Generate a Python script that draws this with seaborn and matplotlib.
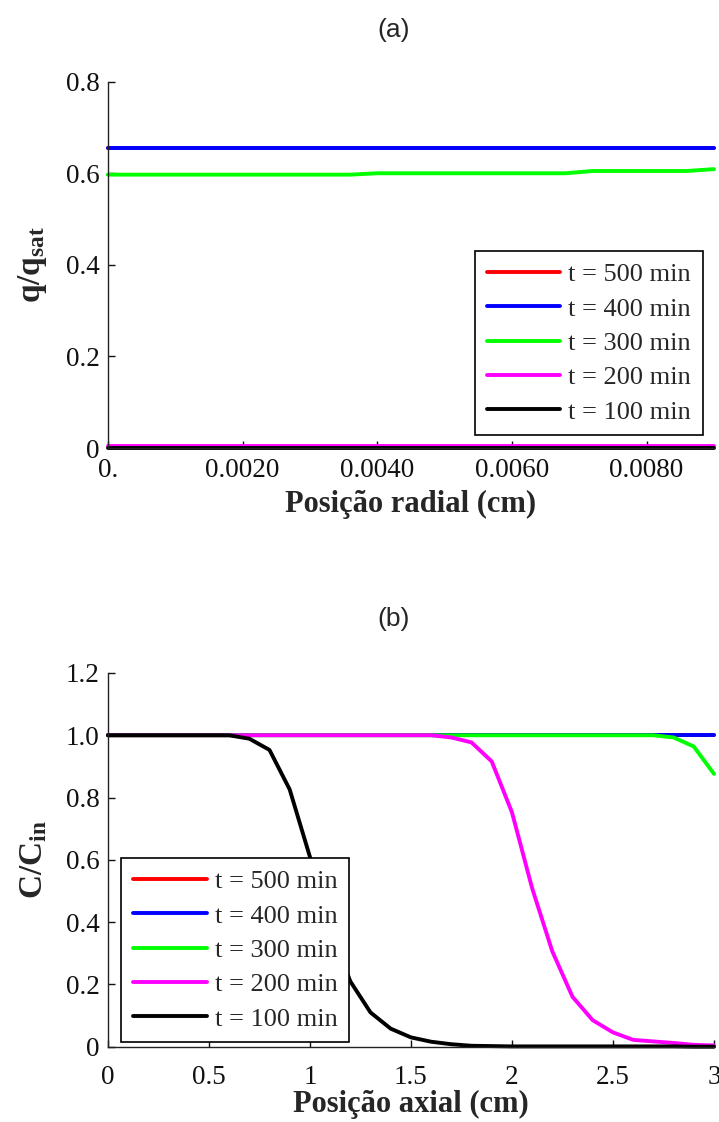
import matplotlib
matplotlib.use('Agg')
import matplotlib.pyplot as plt
import pandas as pd
import seaborn as sns

# ---------------- data ----------------
series = ['t = 500 min', 't = 400 min', 't = 300 min', 't = 200 min', 't = 100 min']
colors = ['#ff0000', '#0000ff', '#00ff00', '#ff00ff', '#000000']

# (a) radial profiles q/qsat
r_500 = [0.0, 0.009]
q_500 = [0.655, 0.655]
r_400 = [0.0, 0.009]
q_400 = [0.655, 0.655]
r_300 = [0.0, 0.0036, 0.0040, 0.0068, 0.0072, 0.0086, 0.0090]
q_300 = [0.597, 0.597, 0.600, 0.600, 0.605, 0.605, 0.609]
r_200 = [0.0, 0.009]
q_200 = [0.005, 0.005]
r_100 = [0.0, 0.009]
q_100 = [0.0, 0.0]

# (b) axial profiles C/Cin
z = [0.0, 0.1, 0.2, 0.3, 0.4, 0.5, 0.6, 0.7, 0.8, 0.9, 1.0,
     1.1, 1.2, 1.3, 1.4, 1.5, 1.6, 1.7, 1.8, 1.9, 2.0,
     2.1, 2.2, 2.3, 2.4, 2.5, 2.6, 2.7, 2.8, 2.9, 3.0]
c_500 = [1.0, 1.0, 1.0, 1.0, 1.0, 1.0, 1.0, 1.0, 1.0, 1.0, 1.0,
         1.0, 1.0, 1.0, 1.0, 1.0, 1.0, 1.0, 1.0, 1.0, 1.0,
         1.0, 1.0, 1.0, 1.0, 1.0, 1.0, 1.0, 1.0, 1.0, 1.0]
c_400 = [1.0, 1.0, 1.0, 1.0, 1.0, 1.0, 1.0, 1.0, 1.0, 1.0, 1.0,
         1.0, 1.0, 1.0, 1.0, 1.0, 1.0, 1.0, 1.0, 1.0, 1.0,
         1.0, 1.0, 1.0, 1.0, 1.0, 1.0, 1.0, 1.0, 1.0, 1.0]
c_300 = [1.0, 1.0, 1.0, 1.0, 1.0, 1.0, 1.0, 1.0, 1.0, 1.0, 1.0,
         1.0, 1.0, 1.0, 1.0, 1.0, 1.0, 1.0, 1.0, 1.0, 1.0,
         1.0, 1.0, 1.0, 1.0, 1.0, 1.0, 1.0, 0.993, 0.964, 0.876]
c_200 = [1.0, 1.0, 1.0, 1.0, 1.0, 1.0, 1.0, 1.0, 1.0, 1.0, 1.0,
         1.0, 1.0, 1.0, 1.0, 1.0, 1.0, 0.993, 0.977, 0.916, 0.753,
         0.509, 0.306, 0.160, 0.085, 0.046, 0.022, 0.017, 0.012, 0.006, 0.004]
c_100 = [1.0, 1.0, 1.0, 1.0, 1.0, 1.0, 1.0, 0.989, 0.953, 0.826, 0.610,
         0.380, 0.210, 0.110, 0.058, 0.030, 0.016, 0.008, 0.003, 0.002, 0.001,
         0.001, 0.001, 0.001, 0.001, 0.001, 0.001, 0.001, 0.001, 0.0, 0.0]

xticks_a = [0.0, 0.002, 0.004, 0.006, 0.008]
xticklabels_a = ['0.', '0.0020', '0.0040', '0.0060', '0.0080']
yticks_a = [0.0, 0.2, 0.4, 0.6, 0.8]
yticklabels_a = ['0', '0.2', '0.4', '0.6', '0.8']
xticks_b = [0.0, 0.5, 1.0, 1.5, 2.0, 2.5, 3.0]
xticklabels_b = ['0', '0.5', '1', '1.5', '2', '2.5', '3']
yticks_b = [0.0, 0.2, 0.4, 0.6, 0.8, 1.0, 1.2]
yticklabels_b = ['0', '0.2', '0.4', '0.6', '0.8', '1.0', '1.2']

# ---------------- long-form tables ----------------
rows_a = []
for name, xs, ys in zip(series, [r_500, r_400, r_300, r_200, r_100],
                        [q_500, q_400, q_300, q_200, q_100]):
    for x, y in zip(xs, ys):
        rows_a.append({'r': x, 'q': y, 't': name})
df_a = pd.DataFrame(rows_a)

rows_b = []
for name, ys in zip(series, [c_500, c_400, c_300, c_200, c_100]):
    for x, y in zip(z, ys):
        rows_b.append({'z': x, 'c': y, 't': name})
df_b = pd.DataFrame(rows_b)

# ---------------- style ----------------
sns.set_theme(style='white')
plt.rcParams['font.family'] = ['Liberation Serif', 'DejaVu Serif']
plt.rcParams['mathtext.fontset'] = 'custom'
plt.rcParams['mathtext.rm'] = 'Liberation Serif'
plt.rcParams['mathtext.bf'] = 'Liberation Serif:bold'
plt.rcParams['mathtext.it'] = 'Liberation Serif:italic'

palette = dict(zip(series, colors))
DPI = 100
fig = plt.figure(figsize=(7.19, 11.22), dpi=DPI)
fig.patch.set_facecolor('white')

ax1 = fig.add_axes([0.150, 0.6007, 0.843, 0.3265])
ax2 = fig.add_axes([0.150, 0.0671, 0.843, 0.3331])

LW = 2.8
sns.lineplot(data=df_a, x='r', y='q', hue='t', hue_order=series, palette=palette,
             estimator=None, sort=False, linewidth=LW, ax=ax1, clip_on=False)
sns.lineplot(data=df_b, x='z', y='c', hue='t', hue_order=series, palette=palette,
             estimator=None, sort=False, linewidth=LW, ax=ax2, clip_on=False)

TICK_FS = 19.5
LEG_FS = 19
LABEL_FS = 22


def style_axes(ax, xticks, xtl, yticks, ytl, xlim, ylim, xpad):
    ax.set_xlim(*xlim)
    ax.set_ylim(*ylim)
    ax.set_xticks(xticks)
    ax.set_xticklabels(xtl)
    ax.set_yticks(yticks)
    ax.set_yticklabels(ytl)
    for s in ['top', 'right']:
        ax.spines[s].set_visible(False)
    for s in ['left', 'bottom']:
        ax.spines[s].set_color('#222222')
        ax.spines[s].set_linewidth(1.0)
    ax.tick_params(axis='both', direction='in', length=5, width=1.0,
                   colors='#111111', labelsize=TICK_FS, left=True, bottom=True)
    ax.tick_params(axis='x', pad=xpad)
    ax.tick_params(axis='y', pad=6)
    ax.set_facecolor('white')


style_axes(ax1, xticks_a, xticklabels_a, yticks_a, yticklabels_a, (0, 0.009), (0, 0.8), 7)
style_axes(ax2, xticks_b, xticklabels_b, yticks_b, yticklabels_b, (0, 3), (0, 1.2), 13)

ax1.set_xlabel('Posição radial (cm)', fontsize=LABEL_FS, fontweight='bold', labelpad=5)
ax1.set_ylabel(r'$\mathbf{q/q_{sat}}$', fontsize=24, labelpad=12)
ax2.set_xlabel('Posição axial (cm)', fontsize=LABEL_FS, fontweight='bold', labelpad=0)
ax2.set_ylabel(r'$\mathbf{C/C_{in}}$', fontsize=24, labelpad=12)

fig.text(394 / 719, 1 - 30 / 1122, '(a)', ha='center', va='center',
         fontsize=19, family=['Liberation Sans', 'DejaVu Sans'])
fig.text(394 / 719, 1 - 619 / 1122, '(b)', ha='center', va='center',
         fontsize=19, family=['Liberation Sans', 'DejaVu Sans'])


def make_legend(ax, loc, anchor):
    handles, labels = ax.get_legend_handles_labels()
    leg = ax.legend(handles, labels, loc=loc, bbox_to_anchor=anchor,
                    bbox_transform=fig.transFigure, borderaxespad=0,
                    fontsize=LEG_FS, frameon=True, fancybox=False, shadow=False,
                    handlelength=2.8, handletextpad=0.3, labelspacing=0.41,
                    borderpad=0.45)
    fr = leg.get_frame()
    fr.set_edgecolor('black')
    fr.set_linewidth(1.2)
    fr.set_facecolor('white')
    fr.set_alpha(1)
    for line in leg.get_lines():
        line.set_linewidth(LW)
    return leg


make_legend(ax1, 'upper right', (703 / 719, 1 - 251 / 1122))
make_legend(ax2, 'upper left', (121 / 719, 1 - 858 / 1122))

fig.savefig('out.png', dpi=DPI, facecolor='white')
